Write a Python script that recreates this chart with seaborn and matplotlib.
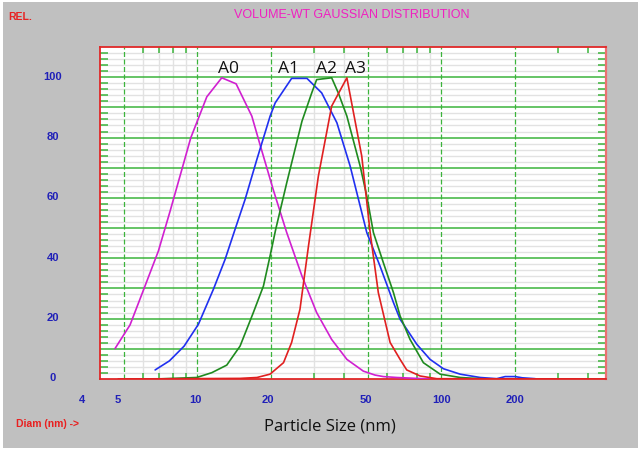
import numpy as np
import pandas as pd
import matplotlib
matplotlib.use("Agg")
import matplotlib.pyplot as plt
import matplotlib.transforms as mtransforms
import seaborn as sns

#curve data (diameter nm, relative volume %)
a0_x = [4.61, 5.31, 6.03, 6.94, 7.75, 8.66, 9.42, 10.96, 12.62, 14.45, 16.76, 18.1, 20.5,
        23.3, 26.9, 30.9, 35.6, 41.1, 48.0, 53.6, 58.0, 65.8, 90.0]
a0_y = [10.1, 17.9, 29.5, 42.4, 55.6, 69.4, 79.9, 93.5, 99.8, 97.8, 87.1, 77.7, 62.8,
        48.5, 34.1, 22.0, 13.1, 6.5, 2.6, 1.3, 0.8, 0.5, 0.0]

a1_x = [6.73, 7.70, 8.85, 10.12, 11.66, 13.02, 14.31, 15.73, 17.57, 19.92, 20.9, 24.4,
        28.2, 32.4, 37.4, 42.4, 49.6, 56.2, 63.8, 67.9, 79.5, 90.1, 102.2, 119.7, 144.5,
        169, 183, 201, 215, 243]
a1_y = [3.0, 6.0, 10.9, 18.1, 29.7, 39.6, 49.6, 59.5, 72.7, 87.1, 91.5, 99.6,
        99.6, 94.8, 84.9, 70.5, 48.5, 37.4, 25.3, 19.8, 11.5, 6.5, 3.4, 1.6, 0.5,
        0.1, 0.8, 0.8, 0.4, 0.1]

a2_x = [6.84, 9.97, 11.49, 13.23, 15.0, 17.0, 18.7, 19.9, 21.0, 23.3, 26.9, 29.5, 30.9,
        35.6, 37.9, 41.1, 46.6, 49.6, 52.8, 58.0, 63.8, 67.9, 74.6, 84.6, 99.1, 119.7, 144.5]
a2_y = [0.0, 0.5, 2.1, 4.6, 10.9, 22.0, 30.8, 40.7, 49.6, 65.0, 85.4, 94.8, 99.2,
        99.8, 94.8, 87.1, 70.5, 60.6, 48.5, 38.5, 28.6, 20.9, 13.1, 5.4, 1.6, 0.5, 0.1]

a3_x = [4.75, 15.0, 17.6, 19.9, 22.6, 24.4, 26.4, 28.6, 31.4, 35.6, 41.1, 47.3, 51.2,
        55.3, 61.8, 67.9, 72.3, 82.0, 96.0, 474]
a3_y = [0.0, 0.2, 0.5, 1.6, 5.4, 12.1, 23.1, 44.0, 67.2, 90.4, 99.8, 73.8, 48.5,
        28.6, 12.1, 6.5, 3.0, 1.0, 0.1, 0.0]

names = ['A0', 'A1', 'A2', 'A3']
peak_x = [13.4, 23.8, 33.8, 44.4]
colors = ['#d020d0', '#2030f0', '#1f8a1f', '#e02020']

x_ticks = [4, 5, 10, 20, 50, 100, 200]
x_minor = [6, 7, 8, 9, 30, 40, 60, 70, 80, 90, 300, 400]
x_grey = [6, 7, 8, 9, 30, 40, 60, 70, 80, 90]
y_ticks = [0, 20, 40, 60, 80, 100]

#build one long dataframe for seaborn
frames = []
for name, xs, ys in zip(names, [a0_x, a1_x, a2_x, a3_x], [a0_y, a1_y, a2_y, a3_y]):
    frames.append(pd.DataFrame({'diam': xs, 'rel': ys, 'sample': name}))
data = pd.concat(frames, ignore_index=True)

sns.set_style("white")
plt.rcParams['font.family'] = ['Liberation Sans', 'DejaVu Sans']

fig = plt.figure(figsize=(6.41, 4.52), dpi=100, facecolor='#c0c0c0')
fig.patch.set_edgecolor('white')
fig.patch.set_linewidth(3)
ax = fig.add_axes([0.156, 0.1593, 0.7894, 0.7345])
ax.set_facecolor('white')

sns.lineplot(data=data, x='diam', y='rel', hue='sample', palette=colors,
             estimator=None, sort=False, linewidth=1.2, legend=False, ax=ax, zorder=3)

ax.set_xscale('log')
ax.set_xlim(4, 474)
ax.set_ylim(0, 110)

#grid lines
ax.set_axisbelow(True)
ax.set_xticks(x_ticks)
ax.set_xticks(x_minor, minor=True)
ax.set_xticklabels([str(v) for v in x_ticks])
ax.set_xticklabels([], minor=True)
ax.set_yticks(np.arange(0, 111, 10))
ax.set_yticks(np.arange(0, 111, 2), minor=True)
ax.set_yticklabels([str(v) if v in y_ticks else '' for v in range(0, 111, 10)])

for xv in x_grey:
    ax.axvline(xv, color='#e2e2e2', lw=1.0, zorder=0)
for yv in np.arange(2, 110, 2):
    if yv % 10:
        ax.axhline(yv, color='#e2e2e2', lw=1.0, zorder=0)
for yv in np.arange(10, 110, 10):
    ax.axhline(yv, color='#3cb43c', lw=1.1, zorder=1)
for xv in x_ticks[1:]:
    ax.axvline(xv, color='#3cb43c', lw=0.9, ls=(0, (4, 2)), zorder=1)

ax.tick_params(axis='x', which='major', length=0, pad=11,
               labelsize=8, labelcolor='#2020b8')
ax.tick_params(axis='x', which='minor', direction='in', length=4, width=1.1,
               color='#3cb43c', top=True, bottom=True)
ax.tick_params(axis='y', which='major', length=0, pad=34,
               labelsize=8, labelcolor='#2020b8')
ax.tick_params(axis='y', which='minor', direction='in', length=5.5, width=1.1,
               color='#3cb43c', left=True, right=True)
for lab in ax.get_xticklabels() + ax.get_yticklabels():
    lab.set_fontweight('bold')
for lab in ax.get_yticklabels():
    lab.set_horizontalalignment('center')
#first two x labels sit a little left of their lines
shifts = {'4': -18, '5': -6, '10': -2, '20': -3, '50': -2}
for lab in ax.get_xticklabels():
    dx = shifts.get(lab.get_text(), 0)
    lab.set_transform(lab.get_transform() +
                      mtransforms.ScaledTranslation(dx / 100, 0, fig.dpi_scale_trans))
for lab in ax.get_yticklabels():
    lab.set_transform(lab.get_transform() +
                      mtransforms.ScaledTranslation(0, 2.5 / 100, fig.dpi_scale_trans))

for side in ['left', 'top', 'bottom']:
    ax.spines[side].set_color('#e02828')
    ax.spines[side].set_linewidth(1.3)
ax.spines['right'].set_color('#ec7070')
ax.spines['right'].set_linewidth(1.6)

ax.set_xlabel('')
ax.set_ylabel('')

#peak labels
for name, px in zip(names, peak_x):
    ax.text(px, 100.3, name, ha='center', va='bottom', fontsize=12.5,
            family=['Open Sans', 'DejaVu Sans'], color='#111111', zorder=4)

fig.text(352 / 641, 1 - 15 / 452, 'VOLUME-WT GAUSSIAN DISTRIBUTION', ha='center',
         va='center', color='#f020c0', fontsize=9)
fig.text(8 / 641, 1 - 17 / 452, 'REL.', ha='left', va='center', color='#e82020',
         fontsize=7.5, fontweight='bold')
fig.text(16 / 641, 1 - 424 / 452, 'Diam (nm) ->', ha='left', va='center',
         color='#e82020', fontsize=7.5, fontweight='bold')
fig.text(330 / 641, 1 - 427 / 452, 'Particle Size (nm)', ha='center', va='center',
         color='#111111', fontsize=12, family=['Open Sans', 'DejaVu Sans'])

fig.savefig('out.png', dpi=100, facecolor=fig.get_facecolor(),
            edgecolor=fig.patch.get_edgecolor())
